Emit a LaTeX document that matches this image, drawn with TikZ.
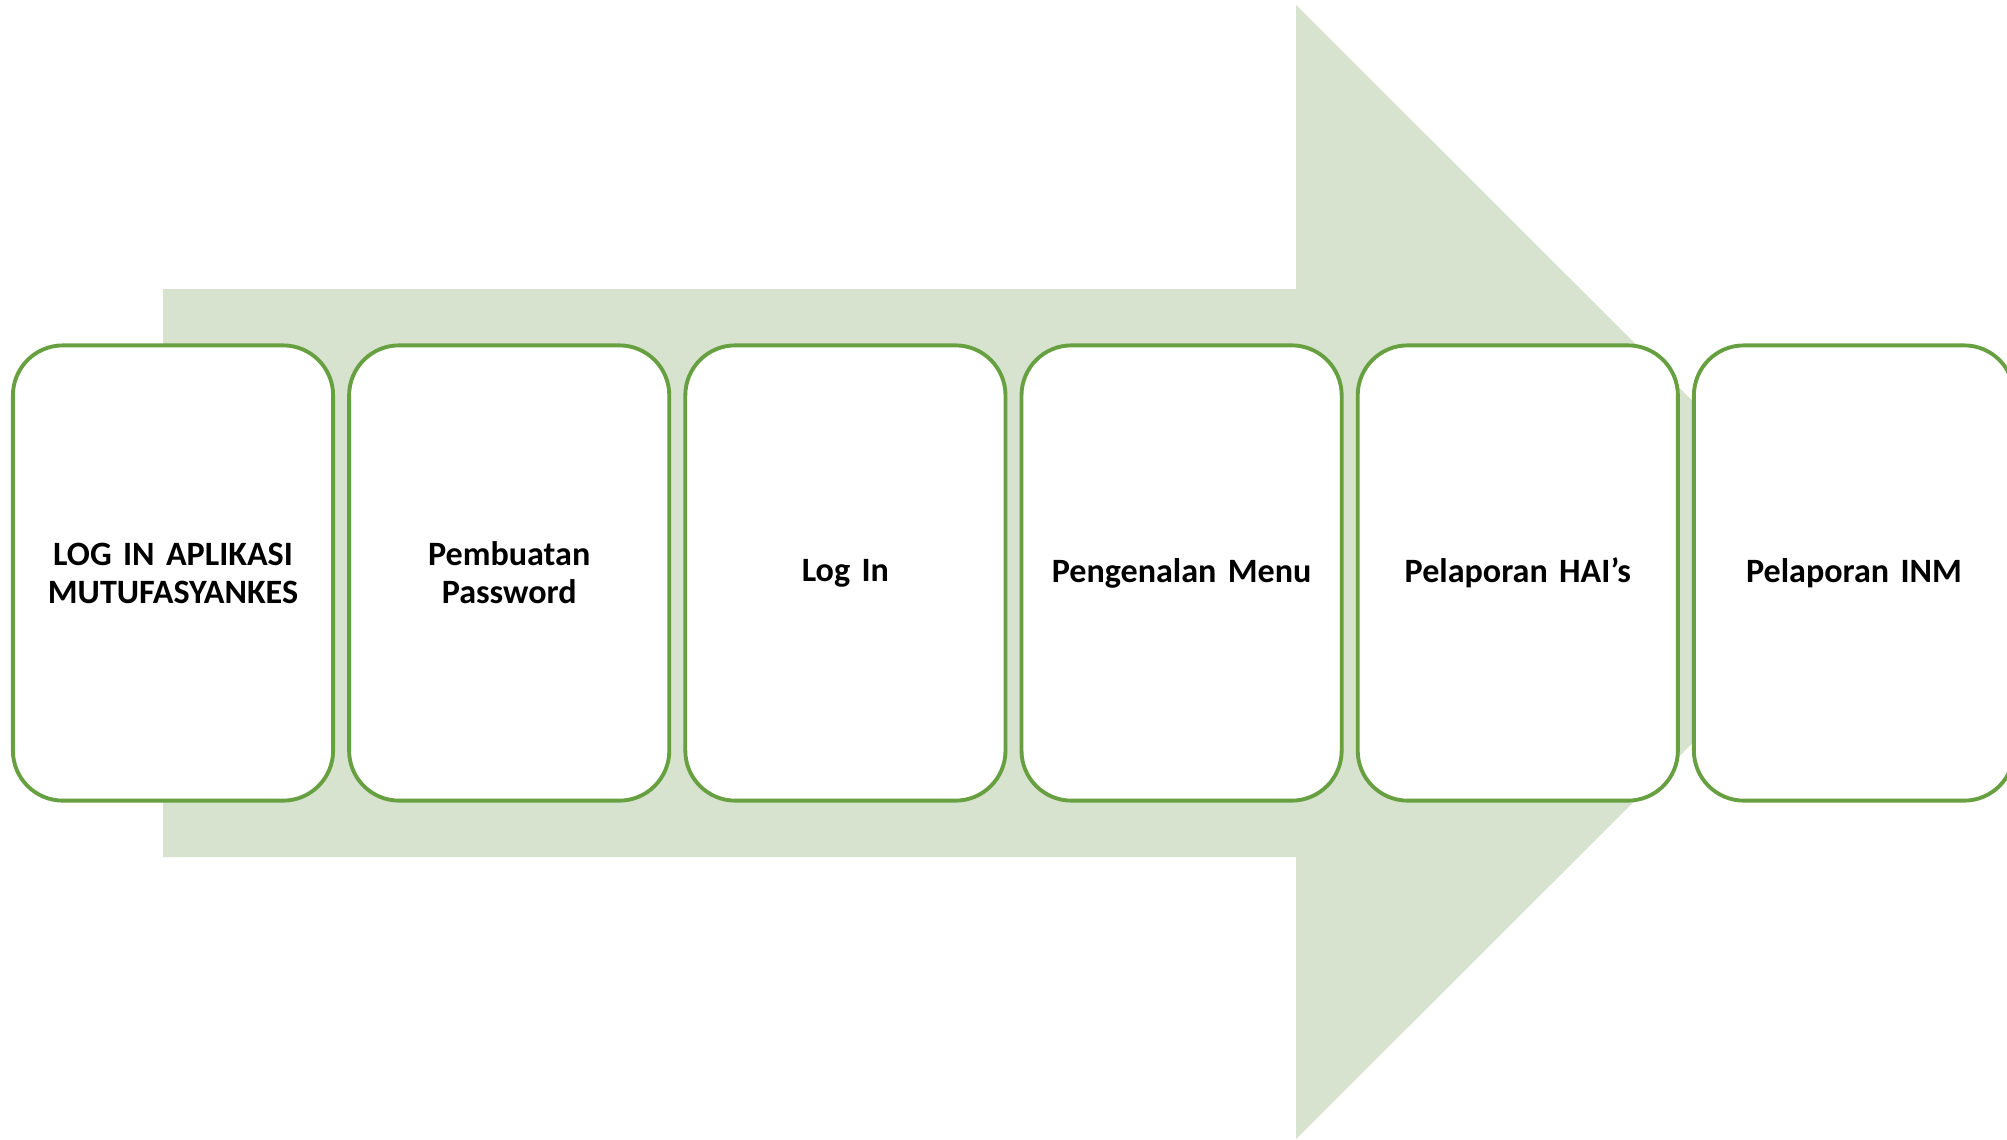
\documentclass[tikz,border=0pt]{standalone}
\usepackage{fontspec}
\setmainfont{Carlito}
\definecolor{boxline}{RGB}{102,160,64}
\definecolor{arrowfill}{RGB}{215,227,207}
\begin{document}
\begin{tikzpicture}[node distance=3.36cm, auto, x=0.01cm, y=-0.01cm]
    \tikzstyle{stepbox} = [draw=boxline, line width=1.1pt, rectangle, rounded corners=0.5cm, fill=white, minimum width=3.2cm, minimum height=4.55cm, text width=2.9cm, align=center, font=\fontsize{9.7}{10.8}\selectfont\bfseries]

    \useasboundingbox (0,0) rectangle (2007,1139);
    \clip (0,0) rectangle (2007,1139);

    % big arrow behind the steps
    \fill[arrowfill] (163,289) -- (1296,289) -- (1296,5) -- (1864,572) -- (1296,1139) -- (1296,857) -- (163,857) -- cycle;

    \node[stepbox] (login) at (173,573) {LOG IN APLIKASI\\MUTUFASYANKES};
    \node[stepbox, right of=login] (password) {Pembuatan\\Password};
    \node[stepbox, right of=password] (logintwo) {Log In};
    \node[stepbox, right of=logintwo] (menu) {Pengenalan Menu};
    \node[stepbox, right of=menu] (hais) {Pelaporan HAI’s};
    \node[stepbox, right of=hais] (inm) {Pelaporan INM};
\end{tikzpicture}
\end{document}
